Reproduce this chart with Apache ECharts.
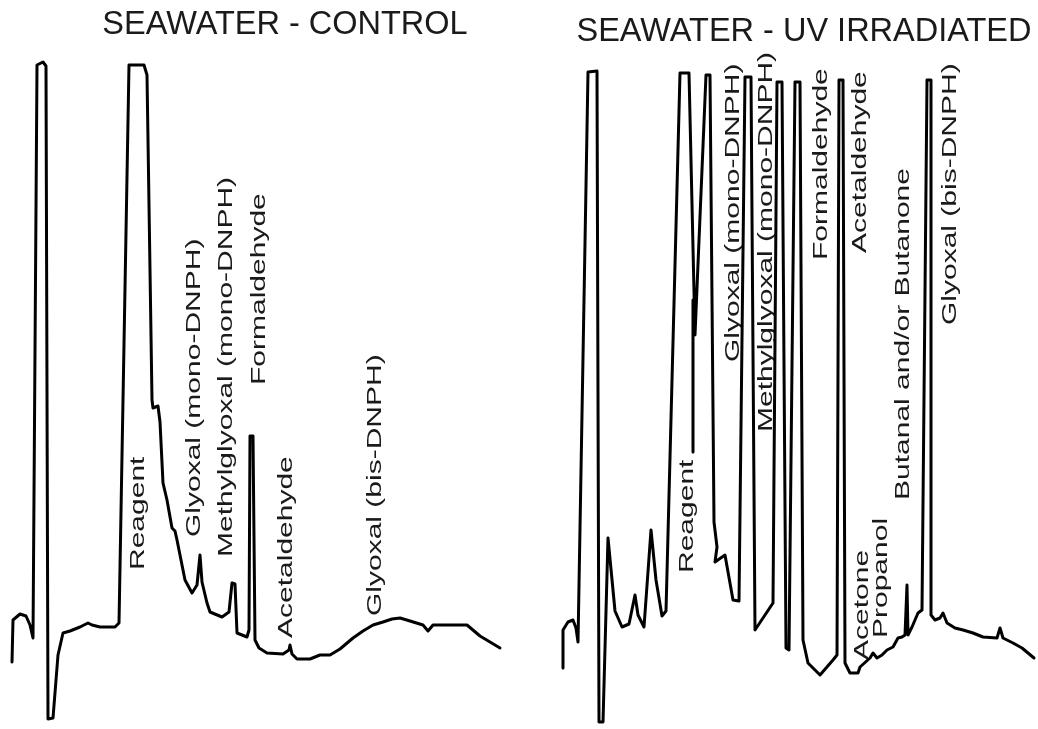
<!DOCTYPE html>
<html>
<head>
<meta charset="utf-8">
<script src="https://cdn.jsdelivr.net/npm/echarts@6/dist/echarts.min.js"></script>
<style>
html,body{margin:0;padding:0;background:#fff;}
#chart{width:1038px;height:729px;}
</style>
</head>
<body>
<div id="chart"></div>
<script>
// ---- Data (retention position, detector response; arbitrary units) ----
const leftTime = [12,13,20,26,30,33,37,43,46,48,53,58,63,70,80,88,92,100,115,119,129,144,147,152,153,158,160,163,167,172,175,177,185,192,197,200,202,207,210,222,229,232,235,237,247,249,250,253,255,259,267,283,289,290,292,297,310,320,330,340,353,363,373,383,392,400,410,423,428,433,467,480,500];
const leftSignal = [67,109,115,113,104,91,664,667,663,10,11,74,96,98,102,106,104,102,102,106,664,664,654,329,321,323,307,246,229,201,198,189,149,136,144,174,147,126,117,112,117,146,145,96,92,99,293,293,89,81,76,75,79,84,75,70,70,74,74,80,91,98,104,107,110,111,108,104,98,104,104,93,81];

const rightTime = [44,44,49,54,57,59,69,78,80,84,89,96,103,110,116,119,125,132,137,143,147,161,170,176,187,191,195,198,196,206,214,220,226,232,236,254,258,263,267,270,276,281,284,289,301,314,318,320,324,326,331,339,341,351,354,358,363,368,374,379,383,386,388,389,393,399,403,408,412,412,416,421,424,428,436,444,454,464,478,481,484,494,503,515];
const rightSignal = [61,99,107,109,101,87,657,658,7,7,191,118,102,105,134,114,102,199,149,113,118,656,656,394,654,654,207,182,167,174,129,128,652,652,99,126,647,647,81,79,647,647,89,66,54,69,74,649,649,66,56,56,62,71,76,71,74,79,82,91,92,94,144,94,102,116,119,649,649,114,109,111,116,106,101,99,96,92,91,101,91,86,81,71];

// Reagent leader mark (right panel)
const reagentLeaderTime = [174,174];
const reagentLeaderSignal = [429,277];

// Peak annotations
const leftLabels = ['Reagent','Glyoxal (mono-DNPH)','Methylglyoxal (mono-DNPH)','Formaldehyde','Acetaldehyde','Glyoxal (bis-DNPH)'];
const leftLabelTime = [138,194,226,259,286,375];
const leftLabelSignal = [159,192,172,344,91,113];

const rightLabels = ['Reagent','Glyoxal (mono-DNPH)','Methylglyoxal (mono-DNPH)','Formaldehyde','Acetaldehyde','Acetone','Propanol','Butanal and/or Butanone','Glyoxal (bis-DNPH)'];
const rightLabelTime = [168,214,247,302,341,343,362,384,431];
const rightLabelSignal = [156,367,297,469,476,69,91,229,404];

const panelTitles = ['SEAWATER - CONTROL','SEAWATER - UV IRRADIATED'];

// ---- Build ----
const zip = (a,b) => a.map((v,i) => [v, b[i]]);
const FONT = '"Liberation Sans", Arial, Helvetica, sans-serif';

function labelSeries(idx, labels, xs, ys){
  return {
    type:'custom', xAxisIndex:idx, yAxisIndex:idx, silent:true,
    data: zip(xs, ys),
    renderItem: (params, api) => {
      const p = api.coord([api.value(0), api.value(1)]);
      return {
        type:'text', x:p[0], y:p[1], rotation:Math.PI/2, scaleX:1.5, scaleY:1,
        style:{text:labels[params.dataIndex], fill:'#1a1a1a', fontSize:20, fontFamily:FONT,
               align:'left', verticalAlign:'middle'}
      };
    }
  };
}
const lineStyle = {color:'#000', width:3, join:'round', cap:'round'};
const axisOff = {show:false};

const chart = echarts.init(document.getElementById('chart'), null, {renderer:'canvas'});
chart.setOption({
  animation:false,
  backgroundColor:'#fff',
  grid:[
    {left:0, top:0, width:519, height:729},
    {left:519, top:0, width:519, height:729}
  ],
  xAxis:[
    {type:'value', gridIndex:0, min:0, max:519, ...axisOff},
    {type:'value', gridIndex:1, min:0, max:519, ...axisOff}
  ],
  yAxis:[
    {type:'value', gridIndex:0, min:0, max:729, ...axisOff},
    {type:'value', gridIndex:1, min:0, max:729, ...axisOff}
  ],
  graphic:[
    {type:'text', x:285, y:25, style:{text:panelTitles[0], fontSize:32.5, fontFamily:FONT, fill:'#1a1a1a', align:'center', verticalAlign:'middle'}},
    {type:'text', x:804, y:32, style:{text:panelTitles[1], fontSize:32.5, fontFamily:FONT, fill:'#1a1a1a', align:'center', verticalAlign:'middle'}}
  ],
  series:[
    {type:'line', xAxisIndex:0, yAxisIndex:0, data:zip(leftTime,leftSignal), symbol:'none', lineStyle, clip:false},
    {type:'line', xAxisIndex:1, yAxisIndex:1, data:zip(rightTime,rightSignal), symbol:'none', lineStyle, clip:false},
    {type:'line', xAxisIndex:1, yAxisIndex:1, data:zip(reagentLeaderTime,reagentLeaderSignal), symbol:'none', lineStyle, clip:false},
    labelSeries(0, leftLabels, leftLabelTime, leftLabelSignal),
    labelSeries(1, rightLabels, rightLabelTime, rightLabelSignal)
  ]
});
</script>
</body>
</html>
